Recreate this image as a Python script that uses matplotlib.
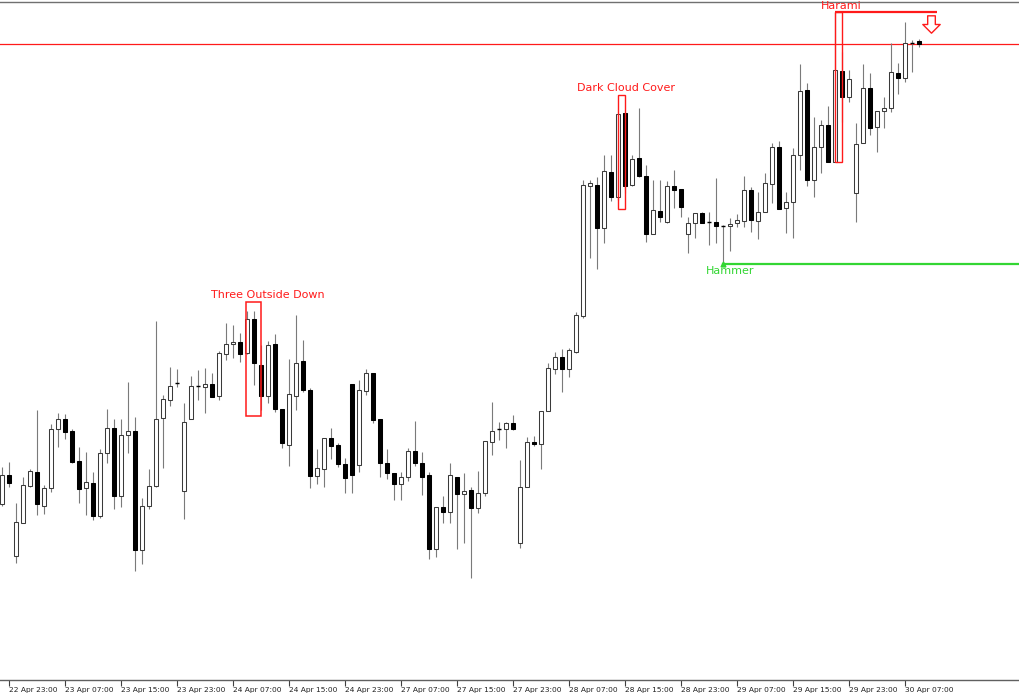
import matplotlib
matplotlib.use("Agg")
import matplotlib.pyplot as plt
from matplotlib.patches import Rectangle
from matplotlib.path import Path
import numpy as np

# ---------------- data (hourly candles) ----------------
time_labels = ["22 Apr 23:00", "23 Apr 07:00", "23 Apr 15:00", "23 Apr 23:00",
               "24 Apr 07:00", "24 Apr 15:00", "24 Apr 23:00", "27 Apr 07:00",
               "27 Apr 15:00", "27 Apr 23:00", "28 Apr 07:00", "28 Apr 15:00",
               "28 Apr 23:00", "29 Apr 07:00", "29 Apr 15:00", "29 Apr 23:00",
               "30 Apr 07:00"]

opens = [1.0496, 1.0525, 1.0444, 1.0477, 1.0514, 1.0528, 1.0494, 1.0512, 1.0571, 1.0581,
         1.0569, 1.0539, 1.0512, 1.0517, 1.0484, 1.0547, 1.0572, 1.0504, 1.0565, 1.0569,
         1.0450, 1.0494, 1.0514, 1.0582, 1.0600, 1.0617, 1.0509, 1.0581, 1.0614, 1.0613,
         1.0616, 1.0604, 1.0646, 1.0656, 1.0658, 1.0647, 1.0681, 1.0635, 1.0604, 1.0656,
         1.0591, 1.0555, 1.0604, 1.0639, 1.0610, 1.0524, 1.0531, 1.0562, 1.0555, 1.0536,
         1.0616, 1.0535, 1.0609, 1.0627, 1.0581, 1.0537, 1.0527, 1.0516, 1.0523, 1.0549,
         1.0537, 1.0525, 1.0451, 1.0493, 1.0488, 1.0523, 1.0506, 1.0510, 1.0492, 1.0507,
         1.0558, 1.0571, 1.0571, 1.0577, 1.0457, 1.0513, 1.0558, 1.0556, 1.0589, 1.0631,
         1.0643, 1.0631, 1.0648, 1.0684, 1.0814, 1.0815, 1.0772, 1.0828, 1.0803, 1.0887,
         1.0815, 1.0842, 1.0824, 1.0766, 1.0789, 1.0778, 1.0814, 1.0811, 1.0766, 1.0777,
         1.0787, 1.0778, 1.0778, 1.0774, 1.0774, 1.0777, 1.0779, 1.0810, 1.0779, 1.0788,
         1.0816, 1.0853, 1.0792, 1.0798, 1.0845, 1.0910, 1.0820, 1.0853, 1.0875, 1.0838,
         1.0929, 1.0903, 1.0807, 1.0857, 1.0912, 1.0873, 1.0889, 1.0892, 1.0927, 1.0922,
         1.0957, 1.0959]

highs = [1.0533, 1.0538, 1.0497, 1.0523, 1.0531, 1.0590, 1.0515, 1.0576, 1.0587, 1.0586,
         1.0571, 1.0553, 1.0548, 1.0528, 1.0551, 1.0591, 1.0581, 1.0581, 1.0618, 1.0583,
         1.0502, 1.0531, 1.0679, 1.0605, 1.0633, 1.0631, 1.0597, 1.0624, 1.0630, 1.0632,
         1.0627, 1.0649, 1.0677, 1.0675, 1.0667, 1.0689, 1.0689, 1.0655, 1.0659, 1.0666,
         1.0591, 1.0641, 1.0685, 1.0660, 1.0612, 1.0551, 1.0562, 1.0572, 1.0557, 1.0542,
         1.0616, 1.0620, 1.0631, 1.0627, 1.0581, 1.0551, 1.0527, 1.0528, 1.0552, 1.0579,
         1.0548, 1.0528, 1.0493, 1.0504, 1.0537, 1.0523, 1.0527, 1.0513, 1.0529, 1.0559,
         1.0598, 1.0578, 1.0578, 1.0585, 1.0540, 1.0563, 1.0564, 1.0589, 1.0637, 1.0648,
         1.0651, 1.0652, 1.0688, 1.0820, 1.0820, 1.0823, 1.0845, 1.0845, 1.0887, 1.0887,
         1.0845, 1.0892, 1.0835, 1.0820, 1.0820, 1.0819, 1.0830, 1.0811, 1.0783, 1.0787,
         1.0788, 1.0788, 1.0822, 1.0775, 1.0782, 1.0786, 1.0824, 1.0813, 1.0808, 1.0827,
         1.0857, 1.0859, 1.0808, 1.0852, 1.0936, 1.0917, 1.0883, 1.0880, 1.0894, 1.0988,
         1.0948, 1.0930, 1.0877, 1.0936, 1.0927, 1.0889, 1.0903, 1.0957, 1.0937, 1.0978,
         1.0960, 1.0961]

lows = [1.0494, 1.0513, 1.0437, 1.0477, 1.0513, 1.0485, 1.0486, 1.0508, 1.0553, 1.0561,
        1.0537, 1.0497, 1.0485, 1.0480, 1.0482, 1.0537, 1.0491, 1.0493, 1.0547, 1.0429,
        1.0436, 1.0491, 1.0513, 1.0532, 1.0594, 1.0613, 1.0481, 1.0581, 1.0600, 1.0587,
        1.0603, 1.0600, 1.0640, 1.0642, 1.0638, 1.0646, 1.0615, 1.0590, 1.0597, 1.0588,
        1.0552, 1.0534, 1.0590, 1.0608, 1.0512, 1.0516, 1.0513, 1.0541, 1.0533, 1.0507,
        1.0507, 1.0528, 1.0605, 1.0577, 1.0523, 1.0521, 1.0500, 1.0500, 1.0519, 1.0534,
        1.0505, 1.0441, 1.0443, 1.0477, 1.0477, 1.0451, 1.0457, 1.0422, 1.0487, 1.0504,
        1.0545, 1.0560, 1.0552, 1.0570, 1.0452, 1.0513, 1.0554, 1.0531, 1.0589, 1.0626,
        1.0608, 1.0623, 1.0647, 1.0682, 1.0742, 1.0731, 1.0757, 1.0799, 1.0800, 1.0807,
        1.0814, 1.0823, 1.0758, 1.0766, 1.0778, 1.0777, 1.0792, 1.0783, 1.0747, 1.0762,
        1.0777, 1.0755, 1.0757, 1.0735, 1.0749, 1.0773, 1.0773, 1.0768, 1.0761, 1.0788,
        1.0797, 1.0791, 1.0767, 1.0762, 1.0830, 1.0814, 1.0803, 1.0827, 1.0838, 1.0838,
        1.0878, 1.0898, 1.0778, 1.0857, 1.0865, 1.0848, 1.0872, 1.0888, 1.0906, 1.0918,
        1.0928, 1.0953]

closes = [1.0525, 1.0517, 1.0478, 1.0515, 1.0529, 1.0496, 1.0512, 1.0571, 1.0581, 1.0568,
          1.0538, 1.0511, 1.0518, 1.0484, 1.0547, 1.0572, 1.0504, 1.0565, 1.0569, 1.0450,
          1.0494, 1.0514, 1.0581, 1.0601, 1.0614, 1.0617, 1.0578, 1.0614, 1.0614, 1.0616,
          1.0603, 1.0647, 1.0656, 1.0658, 1.0646, 1.0681, 1.0637, 1.0604, 1.0655, 1.0591,
          1.0557, 1.0606, 1.0637, 1.0610, 1.0524, 1.0532, 1.0562, 1.0554, 1.0536, 1.0522,
          1.0525, 1.0610, 1.0627, 1.0580, 1.0537, 1.0527, 1.0516, 1.0523, 1.0549, 1.0537,
          1.0523, 1.0451, 1.0493, 1.0488, 1.0525, 1.0506, 1.0509, 1.0492, 1.0507, 1.0559,
          1.0569, 1.0571, 1.0577, 1.0571, 1.0513, 1.0558, 1.0556, 1.0589, 1.0632, 1.0643,
          1.0631, 1.0650, 1.0685, 1.0815, 1.0817, 1.0772, 1.0829, 1.0803, 1.0886, 1.0814,
          1.0841, 1.0824, 1.0766, 1.0790, 1.0783, 1.0814, 1.0810, 1.0793, 1.0777, 1.0787,
          1.0777, 1.0778, 1.0774, 1.0774, 1.0776, 1.0780, 1.0810, 1.0780, 1.0788, 1.0817,
          1.0853, 1.0791, 1.0798, 1.0845, 1.0909, 1.0820, 1.0853, 1.0875, 1.0838, 1.0930,
          1.0903, 1.0921, 1.0856, 1.0912, 1.0872, 1.0889, 1.0892, 1.0928, 1.0922, 1.0957,
          1.0957, 1.0956]

resistance_level = 1.09565
hammer_level = 1.0736
first_label_index = 1
bars_per_label = 8

# ---------------- figure ----------------
fig = plt.figure(figsize=(10.2, 7.0), dpi=100)
ax = fig.add_axes([0, 20 / 700, 1, 678 / 700])

o = np.array(opens); h = np.array(highs); l = np.array(lows); c = np.array(closes)
n = len(o)
xs = np.arange(n)
w = 0.62

# wicks
ax.vlines(xs, l, h, color="#7a7a7a", lw=0.8, zorder=1)

doji = np.abs(c - o) < 0.00005
bull = (c > o) & ~doji
bear = (c < o) & ~doji

ax.bar(xs[bull], (c - o)[bull], bottom=o[bull], width=w, color="white",
       edgecolor="#3a3a3a", linewidth=0.75, zorder=2)
ax.bar(xs[bear], (o - c)[bear], bottom=c[bear], width=w, color="black",
       edgecolor="black", linewidth=0.75, zorder=2)
ax.hlines(o[doji], xs[doji] - w / 2, xs[doji] + w / 2, color="black", lw=1.0, zorder=2)

# axes limits: candle spacing of 7 px
ax.set_xlim(-0.243, 145.47)
ax.set_ylim(1.0320, 1.0998)

# ---------------- pattern annotations ----------------
red = "#ff1a1a"
fs = 8

# Three Outside Down
i3 = 35
ax.add_patch(Rectangle((i3 - 0.15, 1.0584), 2.15, 1.0698 - 1.0584, fill=False,
                       edgecolor=red, lw=1.1, zorder=3))
ax.text(i3 + 3.0, 1.0705, "Three Outside Down", color=red, fontsize=fs,
        ha="center", va="center", zorder=4)

# Dark Cloud Cover
idc = 88
ax.add_patch(Rectangle((idc, 1.0791), 1.0, 1.0905 - 1.0791, fill=False,
                       edgecolor=red, lw=1.0, zorder=3))
ax.text(idc + 1.2, 1.0912, "Dark Cloud Cover", color=red, fontsize=fs,
        ha="center", va="center", zorder=4)

# Harami
ih = 119
ax.add_patch(Rectangle((ih, 1.0838), 1.0, 1.0988 - 1.0838, fill=False,
                       edgecolor=red, lw=1.0, zorder=3))
ax.plot([ih, n + 1.6], [1.0988, 1.0988], color=red, lw=1.6, zorder=3,
        solid_capstyle="butt")
ax.text(ih + 1.0, 1.0994, "Harami", color=red, fontsize=fs,
        ha="center", va="center", zorder=4)

# hollow down arrow
arrow_path = Path([(-0.22, 0.5), (0.22, 0.5), (0.22, 0.0), (0.5, 0.0), (0.0, -0.5),
                   (-0.5, 0.0), (-0.22, 0.0), (-0.22, 0.5)],
                  [Path.MOVETO] + [Path.LINETO] * 6 + [Path.CLOSEPOLY])
ax.plot([n + 0.7], [1.0976], marker=arrow_path, markersize=12.5,
        markerfacecolor="white", markeredgecolor=red, markeredgewidth=1.0, zorder=5)

# resistance line
ax.axhline(resistance_level, color=red, lw=0.9, zorder=0.5)

# Hammer
green = "#33d633"
ihm = 103
ax.plot([ihm, 146], [hammer_level, hammer_level], color=green, lw=1.6, zorder=3)
ax.plot([ihm], [hammer_level], marker="^", markersize=3.5, color=green, zorder=4)
ax.text(ihm + 1.1, 1.0729, "Hammer", color=green, fontsize=fs,
        ha="center", va="center", zorder=4)

# ---------------- axes styling ----------------
tick_idx = [first_label_index + bars_per_label * k for k in range(len(time_labels))]
ax.set_xticks(tick_idx)
ax.set_xticklabels(time_labels, fontsize=5.4, ha="left", color="#222222")
ax.tick_params(axis="x", direction="out", length=4, width=0.8, color="#404040", pad=1)
ax.set_yticks([])
for side in ["left", "right"]:
    ax.spines[side].set_visible(False)
ax.spines["top"].set_color("#707070")
ax.spines["top"].set_linewidth(1.0)
ax.spines["bottom"].set_color("#606060")
ax.spines["bottom"].set_linewidth(1.0)
ax.set_facecolor("white")

fig.savefig("out.png", dpi=100, facecolor="white")
